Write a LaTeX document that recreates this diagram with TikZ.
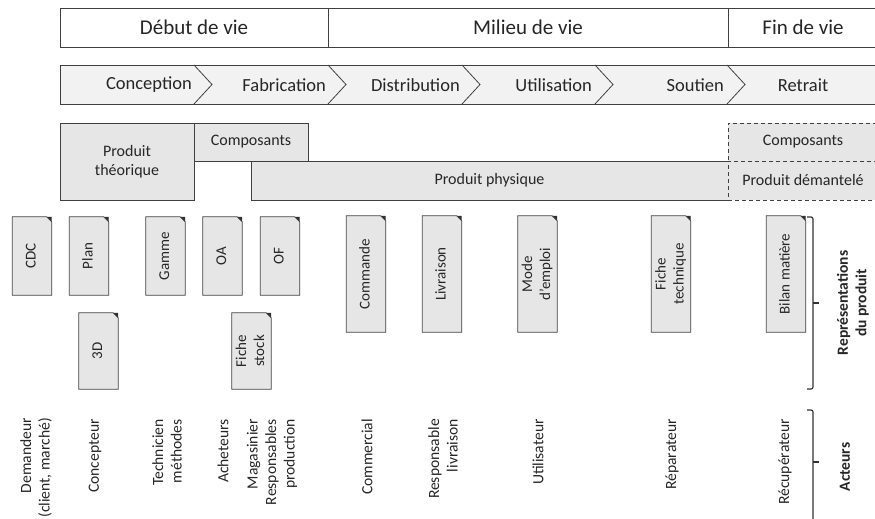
\documentclass[tikz,border=0pt]{standalone}
\usepackage{fontspec}
\setmainfont{Carlito}
\definecolor{linegray}{HTML}{404040}
\definecolor{boxgray}{HTML}{E6E6E6}
\definecolor{bandgray}{HTML}{F2F2F2}
\definecolor{foldgray}{HTML}{303030}
\newcommand{\doctext}[1]{\rotatebox{90}{\begin{tabular}{@{}c@{}}#1\end{tabular}}}

\begin{document}
\begin{tikzpicture}[x=1pt,y=-1pt,
  every node/.style={text=black!85},
  phase/.style={draw=linegray, line width=0.8pt, fill=white, minimum height=39pt, inner sep=0pt, font=\fontsize{21}{25}\selectfont},
  stage/.style={anchor=east, inner sep=1pt, font=\fontsize{18.5}{22}\selectfont},
  prodbox/.style={draw=linegray, line width=0.8pt, fill=boxgray, inner sep=0pt, align=center, font=\fontsize{16}{19.5}\selectfont},
  docbox/.style={fill=boxgray, minimum width=39pt, inner sep=0pt, font=\fontsize{15}{18}\selectfont},
  actor/.style={rotate=90, anchor=east, align=right, inner sep=0pt, font=\fontsize{15.6}{18.5}\selectfont},
  group/.style={rotate=90, align=center, inner sep=0pt, font=\fontsize{15.5}{18.5}\selectfont\bfseries},
  bracket/.style={draw=black!80, line width=1.2pt, rounded corners=2pt}]
\useasboundingbox (0,0) rectangle (875,519);
\clip (0,0) rectangle (875,519);

\node[phase, minimum width=268pt] (debut) at (194,27.5) {Début de vie};
\node[phase, minimum width=400pt] (milieu) at (528,27.5) {Milieu de vie};
\node[phase, minimum width=150pt] (fin) at (803,27.5) {Fin de vie};

\fill[bandgray] (60,65) rectangle (880,104);
\draw[linegray, line width=0.8pt] (880,65) -- (60,65) -- (60,104) -- (880,104);
\foreach \x in {194,328,462,595,727} \draw[linegray, line width=0.8pt] (\x,65) -- (\x+18,84.5) -- (\x,104);
\node[stage] (conception) at (193,85) {Conception};
\node[stage] (fabrication) at (327,85) {Fabrication};
\node[stage] (distribution) at (461,85) {Distribution};
\node[stage] (utilisation) at (593,85) {Utilisation};
\node[stage] (soutien) at (725,85) {Soutien};
\node[stage, anchor=center] (retrait) at (803,85) {Retrait};

\node[prodbox, minimum width=134pt, minimum height=77pt] (theo) at (127,161.5) {Produit\\théorique};
\node[prodbox, minimum width=114pt, minimum height=38pt] (comp) at (251,142) {Composants};
\node[prodbox, minimum width=477pt, minimum height=39pt] (phys) at (489.5,180.5) {Produit physique};
\node[prodbox, dash pattern=on 4pt off 3pt, minimum width=150pt, minimum height=38pt] (compd) at (803,142) {Composants};
\node[prodbox, dash pattern=on 4pt off 3pt, minimum width=150pt, minimum height=39pt] (dem) at (803,180.5) {Produit démantelé};

\node[docbox, minimum height=78pt] (cdc) at (32,256) {\doctext{CDC}};
\node[docbox, minimum height=78pt] (plan) at (89,256) {\doctext{Plan}};
\node[docbox, minimum height=78pt] (gamme) at (165.5,256) {\doctext{Gamme}};
\node[docbox, minimum height=78pt] (oa) at (222.5,256) {\doctext{OA}};
\node[docbox, minimum height=78pt] (of) at (280,256) {\doctext{OF}};
\node[docbox, minimum height=116pt] (cmd) at (366,274) {\doctext{Commande}};
\node[docbox, minimum height=116pt] (livr) at (442,274) {\doctext{Livraison}};
\node[docbox, minimum height=116pt] (mode) at (537.5,274) {\doctext{Mode\\d’emploi}};
\node[docbox, minimum height=116pt] (fiche) at (671,274) {\doctext{Fiche\\technique}};
\node[docbox, minimum height=116pt] (bilan) at (786,274) {\doctext{Bilan matière}};
\node[docbox, minimum height=76pt] (td) at (98.5,351) {\doctext{3D}};
\node[docbox, minimum height=76pt] (stock) at (251.5,351) {\doctext{Fiche\\stock}};
\foreach \d in {cdc,plan,gamme,oa,of,cmd,livr,mode,fiche,bilan,td,stock} {
  \fill[foldgray] ([xshift=-5pt]\d.north east) -- (\d.north east) -- ([yshift=-5pt]\d.north east) -- cycle;
  \draw[linegray, line width=0.8pt] (\d.south west) -- (\d.north west) -- ([xshift=-5pt]\d.north east) -- ([yshift=-5pt]\d.north east) -- (\d.south east) -- cycle;
}

\node[actor] (demandeur) at (36,418) {Demandeur\\(client, marché)};
\node[actor] (concepteur) at (95,419) {Concepteur};
\node[actor] (technicien) at (167,419) {Technicien\\méthodes};
\node[actor] (acheteurs) at (223,419) {Acheteurs};
\node[actor] (magasinier) at (272,419) {Magasinier\\Responsables\\production};
\node[actor] (commercial) at (367,419) {Commercial};
\node[actor] (responsable) at (443,419) {Responsable\\livraison};
\node[actor] (utilisateur) at (538,419) {Utilisateur};
\node[actor] (reparateur) at (672,419) {Réparateur};
\node[actor] (recuperateur) at (785,419) {Récupérateur};

\draw[bracket] (807,217) -- (813,217) -- (813,389) -- (807,389);
\draw[bracket] (813,303) -- (819,303);
\draw[bracket] (807,410) -- (813,410) -- (813,530);
\draw[bracket] (813,462) -- (819,462);
\node[group] (repr) at (853,303) {Représentations\\du produit};
\node[group] (acteurs) at (845,467) {Acteurs};
\end{tikzpicture}
\end{document}
